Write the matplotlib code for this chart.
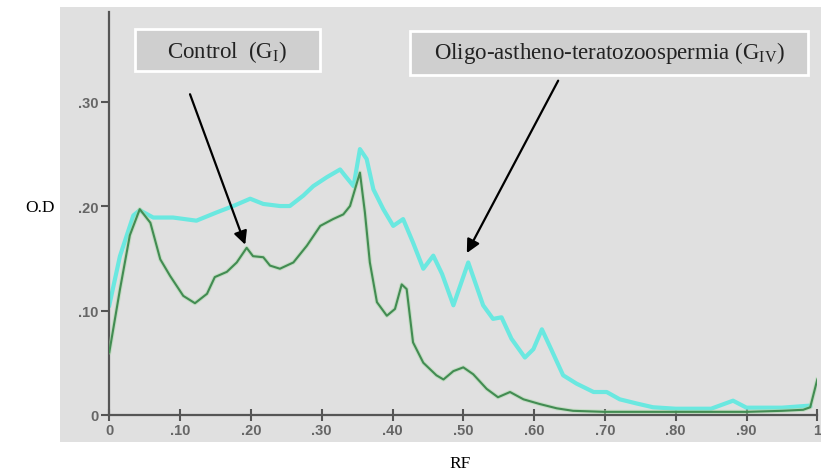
import matplotlib
matplotlib.use("Agg")
import matplotlib.pyplot as plt
from matplotlib.patches import Rectangle

# densitometric scan
rf_giv = [0, 0.015, 0.034, 0.043, 0.062, 0.090, 0.123, 0.152, 0.175, 0.199,
          0.2175, 0.241, 0.255, 0.274, 0.288, 0.307, 0.326, 0.333, 0.345, 0.354,
          0.3635, 0.373, 0.387, 0.401, 0.415, 0.429, 0.4435, 0.4576, 0.470, 0.486,
          0.507, 0.528, 0.542, 0.554, 0.568, 0.587, 0.599, 0.611, 0.622, 0.641,
          0.660, 0.684, 0.7025, 0.721, 0.745, 0.768, 0.80, 0.85, 0.881, 0.90,
          0.95, 0.99]
od_giv = [0.105, 0.152, 0.191, 0.196, 0.189, 0.189, 0.186, 0.194, 0.200, 0.207,
          0.202, 0.200, 0.200, 0.210, 0.219, 0.2275, 0.235, 0.229, 0.219, 0.2545,
          0.245, 0.216, 0.197, 0.181, 0.1875, 0.165, 0.140, 0.1525, 0.135, 0.105,
          0.146, 0.105, 0.092, 0.0935, 0.073, 0.055, 0.063, 0.082, 0.066, 0.038,
          0.030, 0.022, 0.022, 0.015, 0.011, 0.0074, 0.006, 0.006, 0.0137, 0.007,
          0.007, 0.009]

rf_gi = [0, 0.015, 0.029, 0.043, 0.058, 0.072, 0.086, 0.1045, 0.121, 0.138,
         0.149, 0.166, 0.180, 0.194, 0.203, 0.2175, 0.227, 0.241, 0.260, 0.279,
         0.298, 0.316, 0.3305, 0.340, 0.347, 0.354, 0.361, 0.368, 0.378, 0.392,
         0.4035, 0.413, 0.420, 0.429, 0.4435, 0.462, 0.472, 0.486, 0.500, 0.514,
         0.533, 0.549, 0.566, 0.585, 0.608, 0.632, 0.655, 0.70, 0.75, 0.80,
         0.85, 0.90, 0.95, 0.98, 0.99, 1.0]
od_gi = [0.060, 0.120, 0.172, 0.197, 0.184, 0.149, 0.133, 0.114, 0.107, 0.116,
         0.132, 0.137, 0.146, 0.160, 0.152, 0.151, 0.143, 0.140, 0.146, 0.162,
         0.181, 0.1875, 0.192, 0.200, 0.216, 0.232, 0.194, 0.146, 0.108, 0.095,
         0.1015, 0.125, 0.1205, 0.0695, 0.050, 0.038, 0.034, 0.042, 0.0456, 0.039,
         0.025, 0.017, 0.022, 0.015, 0.0105, 0.0064, 0.004, 0.003, 0.003, 0.003,
         0.003, 0.003, 0.004, 0.005, 0.0074, 0.034]

xticks = [0, 0.1, 0.2, 0.3, 0.4, 0.5, 0.6, 0.7, 0.8, 0.9, 1.0]
xlabels = ["0", ".10", ".20", ".30", ".40", ".50", ".60", ".70", ".80", ".90", "1"]
yticks = [0, 0.1, 0.2, 0.3]
ylabels = ["0", ".10", ".20", ".30"]

plt.rcParams["mathtext.fontset"] = "custom"
plt.rcParams["mathtext.rm"] = "Liberation Serif"
plt.rcParams["mathtext.it"] = "Liberation Serif:italic"

W, H = 821, 477
fig = plt.figure(figsize=(W / 100, H / 100), dpi=100)
fig.patch.set_facecolor("white")


def fx(px):
  return px / W


def fy(py):
  return 1 - py / H


# grey panel behind the plot
fig.patches.append(Rectangle((fx(60), fy(443)), fx(W - 60), fy(8) - fy(443),
                             transform=fig.transFigure, fc="#e0e0e0", ec="none", zorder=-2))

ax = fig.add_axes([fx(109.3), fy(416), fx(817.3 - 109.3), fy(12.7) - fy(416)])
ax.set_facecolor("none")
ax.set_zorder(1)
ax.set_xlim(0, 1)
ax.set_ylim(0, 0.386)

ax.plot(rf_giv, od_giv, color="#6ae8e0", lw=3, solid_joinstyle="round", zorder=2)
ax.plot(rf_gi, od_gi, color="#a8d8a8", lw=3, alpha=0.5, zorder=3)
ax.plot(rf_gi, od_gi, color="#428c52", lw=1.5, zorder=4)

for s in ["top", "right"]:
  ax.spines[s].set_visible(False)
for s in ["left", "bottom"]:
  ax.spines[s].set_color("#555555")
  ax.spines[s].set_linewidth(1.6)

ax.set_xticks(xticks)
ax.set_xticklabels(xlabels)
ax.set_yticks(yticks)
ax.set_yticklabels(ylabels)
ax.tick_params(axis="x", direction="inout", length=9, width=1.5, color="#555555",
               labelsize=10.5, labelcolor="#666666", pad=1)
ax.tick_params(axis="y", direction="out", length=6, width=1.5, color="#555555",
               labelsize=10.5, labelcolor="#666666", pad=2)
for lab in ax.get_xticklabels() + ax.get_yticklabels():
  lab.set_fontfamily("Liberation Sans")
  lab.set_fontweight("bold")

fig.text(fx(40), fy(208), "O.D", ha="center", va="center",
         fontsize=12.5, family="Liberation Serif")
fig.text(fx(460), fy(464), "RF", ha="center", va="center",
         fontsize=12.5, family="Liberation Serif")

# label boxes
fig.patches.append(Rectangle((fx(135), fy(72)), fx(185), fy(30) - fy(72),
                             transform=fig.transFigure, fc="#cfcfcf", ec="white",
                             lw=2, zorder=-1))
fig.text(fx(227), fy(52), r"Control  (G$_{\mathrm{I}}$)", ha="center", va="center",
         fontsize=16.5, family="Liberation Serif", color="#222222", zorder=5)

fig.patches.append(Rectangle((fx(410), fy(76)), fx(398), fy(32) - fy(76),
                             transform=fig.transFigure, fc="#cfcfcf", ec="white",
                             lw=2, zorder=-1))
fig.text(fx(609), fy(53), r"Oligo-astheno-teratozoospermia (G$_{\mathrm{IV}}$)",
         ha="center", va="center", fontsize=16.5, family="Liberation Serif",
         color="#222222", zorder=5)

arrow = dict(arrowstyle="-|>", color="black", lw=1.6, mutation_scale=20,
             shrinkA=0, shrinkB=0)
ax.annotate("", xy=(0.192, 0.163), xytext=(0.114, 0.307), arrowprops=arrow)
ax.annotate("", xy=(0.505, 0.155), xytext=(0.634, 0.320), arrowprops=arrow)

fig.savefig("out.png", dpi=100)
